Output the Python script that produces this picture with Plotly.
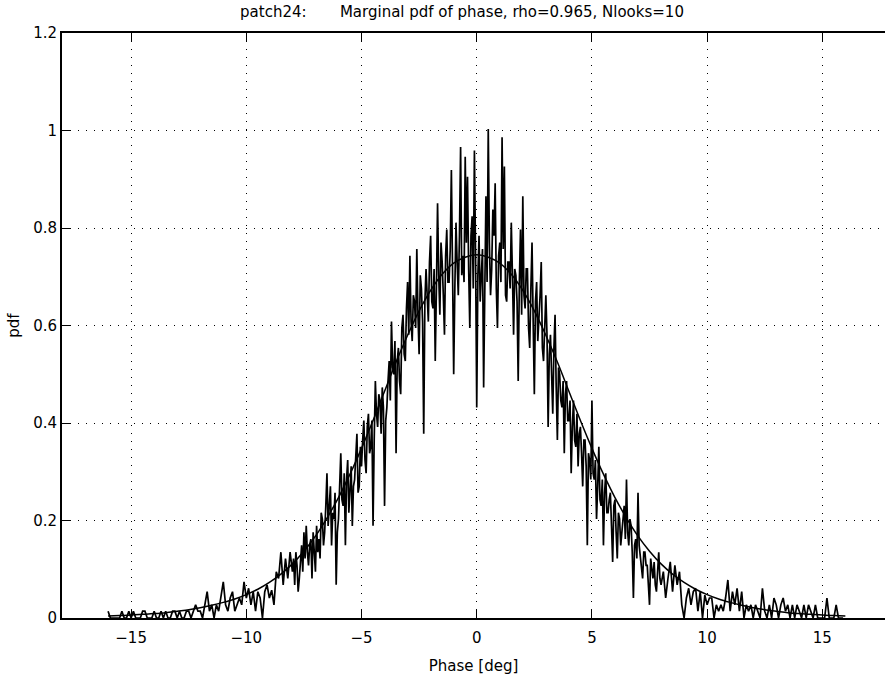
import numpy as np
import plotly.graph_objects as go

# ---- measured pdf (histogram) ----
# outer left: bins of 0.1 deg from -16.0 to -8.1
outer_left_start = -16.0
outer_left_step = 0.1
outer_left = [0.014, 0, 0, 0, 0, 0, 0.014, 0, 0, 0.014,
              0, 0.014, 0, 0, 0, 0.014, 0.014, 0, 0, 0,
              0.014, 0, 0, 0.014, 0, 0.014, 0, 0, 0.014, 0.014,
              0, 0.014, 0, 0, 0.014, 0.014, 0, 0.014, 0.027, 0.014,
              0.014, 0.0, 0.027, 0.054, 0.014, 0.027, 0.0, 0.027, 0.014, 0.041,
              0.074, 0.027, 0.014, 0.041, 0.054, 0.014, 0.027, 0.041, 0.027, 0.074,
              0.041, 0.061, 0.027, 0.054, 0.014, 0.054, 0.041, 0.0, 0.054, 0.068,
              0.041, 0.057, 0.027, 0.095, 0.081, 0.135, 0.068, 0.122, 0.081, 0.135]

# core: bins of 0.05 deg from -8.0 to 7.95
core_start = -8.0
core_step = 0.05
core_left = [0.095, 0.122, 0.068, 0.135, 0.108, 0.054, 0.081, 0.122, 0.149, 0.095,
             0.176, 0.122, 0.189, 0.135, 0.108, 0.149, 0.162, 0.081, 0.176, 0.135,
             0.095, 0.189, 0.135, 0.162, 0.122, 0.216, 0.203, 0.149, 0.176, 0.230,
             0.297, 0.189, 0.230, 0.270, 0.149, 0.216, 0.203, 0.257, 0.068, 0.176,
             0.203, 0.270, 0.338, 0.243, 0.230, 0.297, 0.149, 0.284, 0.324, 0.216,
             0.257, 0.311, 0.189, 0.270, 0.284, 0.338, 0.378, 0.257, 0.270, 0.351,
             0.311, 0.365, 0.405, 0.324, 0.297, 0.392, 0.419, 0.338, 0.351, 0.405,
             0.189, 0.365, 0.486, 0.419, 0.392, 0.459, 0.446, 0.378, 0.473, 0.432,
             0.230, 0.405, 0.432, 0.486, 0.527, 0.446, 0.608, 0.514, 0.500, 0.568,
             0.338, 0.527, 0.554, 0.486, 0.459, 0.595, 0.622, 0.541, 0.527, 0.635,
             0.689, 0.581, 0.743, 0.608, 0.568, 0.662, 0.649, 0.595, 0.757, 0.622,
             0.541, 0.703, 0.676, 0.608, 0.378, 0.649, 0.716, 0.662, 0.608, 0.730,
             0.784, 0.649, 0.635, 0.716, 0.527, 0.676, 0.851, 0.703, 0.622, 0.770,
             0.730, 0.662, 0.581, 0.743, 0.797, 0.689, 0.689, 0.757, 0.919, 0.716,
             0.500, 0.676, 0.811, 0.730, 0.662, 0.784, 0.966, 0.703, 0.743, 0.689,
             0.946, 0.770, 0.905, 0.716, 0.595, 0.784, 0.824, 0.676, 0.959, 0.743]
core_right = [0.432, 0.703, 0.784, 0.649, 0.703, 0.757, 0.473, 0.730, 0.865, 0.689,
              1.003, 0.770, 0.662, 0.716, 0.838, 0.784, 0.892, 0.676, 0.595, 0.743,
              0.770, 0.689, 0.986, 0.757, 0.926, 0.662, 0.649, 0.730, 0.730, 0.676,
              0.811, 0.703, 0.581, 0.716, 0.703, 0.649, 0.486, 0.689, 0.797, 0.622,
              0.865, 0.662, 0.635, 0.716, 0.716, 0.595, 0.554, 0.676, 0.770, 0.608,
              0.459, 0.649, 0.689, 0.568, 0.608, 0.662, 0.730, 0.554, 0.527, 0.608,
              0.662, 0.581, 0.392, 0.541, 0.581, 0.500, 0.419, 0.554, 0.622, 0.473,
              0.365, 0.514, 0.500, 0.446, 0.432, 0.486, 0.338, 0.459, 0.486, 0.405,
              0.405, 0.446, 0.297, 0.392, 0.446, 0.365, 0.351, 0.419, 0.311, 0.378,
              0.392, 0.338, 0.270, 0.365, 0.365, 0.311, 0.149, 0.338, 0.324, 0.284,
              0.446, 0.297, 0.284, 0.324, 0.203, 0.270, 0.351, 0.243, 0.230, 0.284,
              0.149, 0.257, 0.297, 0.216, 0.216, 0.243, 0.257, 0.189, 0.115, 0.230,
              0.243, 0.176, 0.122, 0.216, 0.203, 0.149, 0.176, 0.189, 0.230, 0.162,
              0.284, 0.176, 0.149, 0.203, 0.189, 0.135, 0.041, 0.149, 0.162, 0.122,
              0.257, 0.149, 0.122, 0.095, 0.081, 0.135, 0.135, 0.108, 0.108, 0.068,
              0.027, 0.122, 0.095, 0.081, 0.115, 0.068, 0.054, 0.095, 0.135, 0.081]

# outer right: bins of 0.1 deg from 8.0 to 15.9
outer_right_start = 8.0
outer_right_step = 0.1
outer_right = [0.068, 0.095, 0.041, 0.081, 0.115, 0.054, 0.108, 0.068, 0.095, 0.027,
               0.0, 0.041, 0.061, 0.027, 0.054, 0.061, 0.014, 0.054, 0.0, 0.047,
               0.027, 0.041, 0.041, 0.0, 0.027, 0.014, 0.027, 0.014, 0.041, 0.078,
               0.014, 0.054, 0.027, 0.061, 0.014, 0.054, 0.0, 0.027, 0.014, 0.027,
               0.0, 0.027, 0.014, 0.0, 0.061, 0.014, 0.0, 0.027, 0.0, 0.041,
               0.027, 0.0, 0.027, 0.041, 0.014, 0.027, 0.0, 0.027, 0.0, 0.027,
               0.014, 0.0, 0.027, 0.0, 0.027, 0.014, 0.0, 0.027, 0.0, 0.0,
               0.0, 0.0, 0.041, 0.0, 0.0, 0.0, 0.027, 0.0, 0.0, 0.0]

# ---- theoretical pdf, sampled every 0.5 deg from -16 to 16 ----
theory_start = -16.0
theory_step = 0.5
theory_right = [0.745, 0.740, 0.728, 0.705, 0.672, 0.630, 0.580, 0.525, 0.465, 0.405,
                0.348, 0.295, 0.247, 0.205, 0.168, 0.137, 0.111, 0.090, 0.073, 0.059,
                0.048, 0.039, 0.032, 0.026, 0.021, 0.017, 0.014, 0.011, 0.009, 0.0075,
                0.006, 0.005, 0.004]
theory_left = theory_right[:0:-1]

x_ticks = [-15, -10, -5, 0, 5, 10, 15]
y_ticks = [0, 0.2, 0.4, 0.6, 0.8, 1.0, 1.2]

core = core_left + core_right
hist_x = np.concatenate([
    outer_left_start + outer_left_step * np.arange(len(outer_left)),
    core_start + core_step * np.arange(len(core)),
    outer_right_start + outer_right_step * np.arange(len(outer_right)),
])
hist_vals = outer_left + core + outer_right
theory_vals = theory_left + theory_right
theory_x = theory_start + theory_step * np.arange(len(theory_vals))

font = "DejaVu Sans, Liberation Sans, Arial, sans-serif"

fig = go.Figure()
fig.add_trace(go.Scatter(x=hist_x, y=hist_vals, mode="lines",
                         line=dict(color="black", width=1.7), showlegend=False))
fig.add_trace(go.Scatter(x=theory_x, y=theory_vals, mode="lines",
                         line=dict(color="black", width=1.5, shape="spline"),
                         showlegend=False))

fig.update_layout(
    width=885, height=677,
    margin=dict(l=62, r=0, t=33, b=59),
    paper_bgcolor="white", plot_bgcolor="white",
    font=dict(family=font, size=15, color="black"),
    title=dict(text="patch24:\u00a0\u00a0\u00a0\u00a0\u00a0\u00a0 Marginal pdf of phase, rho=0.965, Nlooks=10",
               x=462 / 885, xanchor="center", y=1 - 12 / 677, yanchor="middle",
               font=dict(family=font, size=15, color="black")),
)
fig.update_xaxes(
    range=[-18, 17.72], tickvals=x_ticks, ticks="inside", ticklen=8, tickwidth=1,
    tickcolor="black", showline=True, linecolor="black", linewidth=2, mirror="ticks",
    showgrid=True, gridcolor="black", gridwidth=1, griddash="1px,7px", zeroline=False,
    title=dict(text="Phase [deg]", font=dict(size=15), standoff=14),
    tickfont=dict(size=15), ticklabelstandoff=5,
)
fig.update_yaxes(
    range=[0, 1.2], tickvals=y_ticks, ticks="inside", ticklen=8, tickwidth=1,
    tickcolor="black", showline=True, linecolor="black", linewidth=2, mirror=False,
    showgrid=True, gridcolor="black", gridwidth=1, griddash="1px,7px", zeroline=False,
    title=dict(text="pdf", font=dict(size=15), standoff=10),
    tickfont=dict(size=15),
)

fig.write_html("out.html", config={"displayModeBar": False},
               post_script="document.body.style.margin='0';document.body.style.overflow='hidden';")
